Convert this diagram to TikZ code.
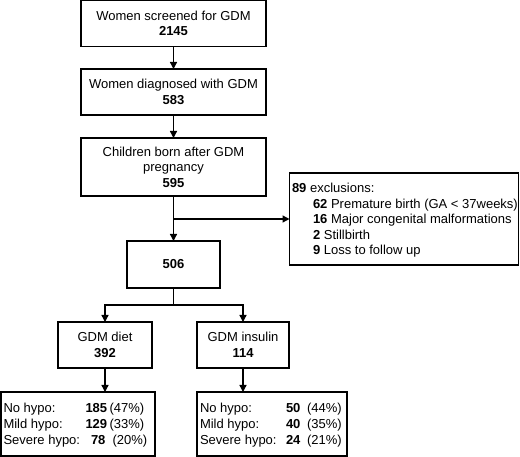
\documentclass[tikz,border=0pt]{standalone}
\usepackage{fontspec}
\setmainfont{Liberation Sans}
\usetikzlibrary{arrows.meta}
\begin{document}
\begin{tikzpicture}[x=1pt,y=-1pt,
  box/.style={draw,line width=1.4pt,inner sep=0pt,outer sep=0pt},
  txt/.style={inner sep=0pt,outer sep=0pt,font=\fontsize{13}{15.5}\selectfont,align=center},
  ltxt/.style={inner sep=0pt,outer sep=0pt,font=\fontsize{13}{15.5}\selectfont,anchor=base west},
  arr/.style={line width=1.3pt,-{Triangle[length=7pt,width=7pt]}},
  ln/.style={line width=1.3pt}]
\useasboundingbox (0,0) rectangle (520,457);
% boxes
\node[box,minimum width=185pt,minimum height=46pt] (b1) at (173.5,23.5) {};
\node[txt] (t1) at (b1.center) {Women screened for GDM\\\textbf{2145}};
\node[box,minimum width=185pt,minimum height=46pt] (b2) at (173.5,92) {};
\node[txt] (t2) at (b2.center) {Women diagnosed with GDM\\\textbf{583}};
\node[box,minimum width=185pt,minimum height=58pt] (b3) at (173.5,167) {};
\node[txt] (t3) at (b3.center) {Children born after GDM\\pregnancy\\\textbf{595}};
\node[box,minimum width=229pt,minimum height=92pt] (ex) at (404,219) {};
\node[ltxt] (e0) at (292,193) {\textbf{89} exclusions:};
\node[ltxt] (e1) at (313,208.5) {\textbf{62} Premature birth (GA < 37weeks)};
\node[ltxt] (e2) at (313,224) {\textbf{16} Major congenital malformations};
\node[ltxt] (e3) at (313,239.5) {\textbf{2} Stillbirth};
\node[ltxt] (e4) at (313,255) {\textbf{9} Loss to follow up};
\node[box,minimum width=93pt,minimum height=47pt] (b4) at (173.5,264.5) {};
\node[txt] (t4) at (b4.center) {\textbf{506}};
\node[box,minimum width=94pt,minimum height=46pt] (d) at (105,345) {};
\node[txt] (td) at (d.center) {GDM diet\\\textbf{392}};
\node[box,minimum width=92pt,minimum height=46pt] (i) at (243,345) {};
\node[txt] (ti) at (i.center) {GDM insulin\\\textbf{114}};
\node[box,minimum width=154pt,minimum height=64pt] (dl) at (78,424) {};
\node[box,minimum width=150pt,minimum height=64pt] (il) at (272,424) {};
% left results
\node[ltxt] (l1) at (3.5,413) {No hypo:};
\node[ltxt] (l2) at (3.5,428.5) {Mild hypo:};
\node[ltxt] (l3) at (3.5,444) {Severe hypo:};
\node[ltxt] (l1n) at (85.5,413) {\textbf{185}};
\node[ltxt] (l2n) at (85.5,428.5) {\textbf{129}};
\node[ltxt] (l3n) at (91,444) {\textbf{78}};
\node[ltxt] (l1p) at (109.5,413) {(47\%)};
\node[ltxt] (l2p) at (109.5,428.5) {(33\%)};
\node[ltxt] (l3p) at (112.5,444) {(20\%)};
% right results
\node[ltxt] (r1) at (200,413) {No hypo:};
\node[ltxt] (r2) at (200,428.5) {Mild hypo:};
\node[ltxt] (r3) at (200,444) {Severe hypo:};
\node[ltxt] (r1n) at (286,413) {\textbf{50}};
\node[ltxt] (r2n) at (286,428.5) {\textbf{40}};
\node[ltxt] (r3n) at (286,444) {\textbf{24}};
\node[ltxt] (r1p) at (307,413) {(44\%)};
\node[ltxt] (r2p) at (307,428.5) {(35\%)};
\node[ltxt] (r3p) at (307,444) {(21\%)};
% connectors
\coordinate (br) at (173.5,219);
\coordinate (sp) at (173.5,305);
\draw[arr] (b1) -- (b2);
\draw[arr] (b2) -- (b3);
\draw[arr] (b3) -- (b4);
\draw[arr] (br) -- (ex.west |- br);
\draw[ln] (b4) -- (sp);
\draw[arr] (sp) -| (d);
\draw[arr] (sp) -| (i);
\draw[arr] (d) -- (dl.north -| d);
\draw[arr] (i) -- (il.north -| i);
\end{tikzpicture}
\end{document}
